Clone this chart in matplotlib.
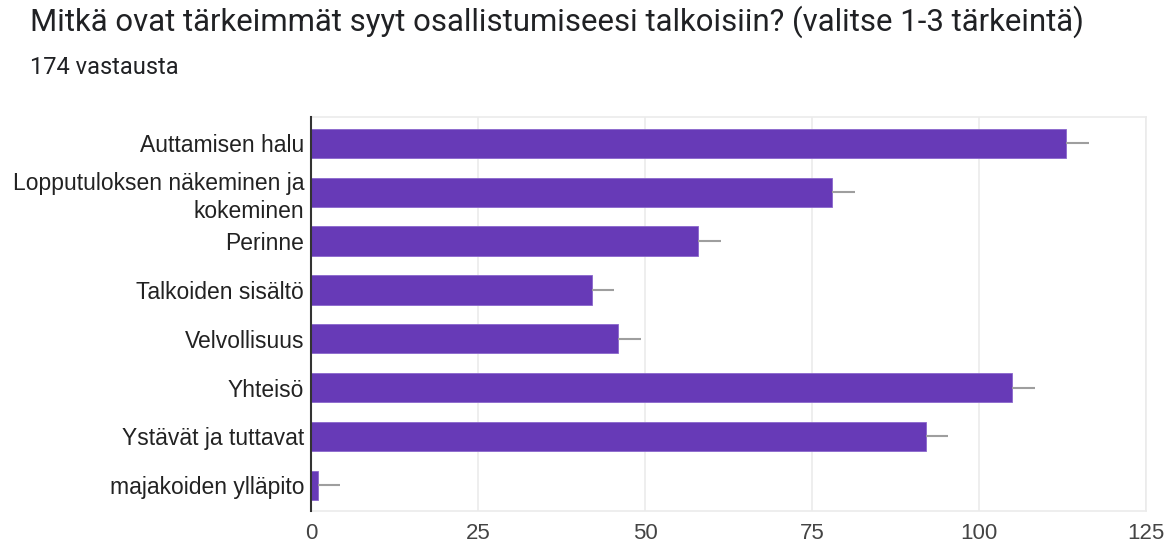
import matplotlib.pyplot as plt

categories = ['Auttamisen halu', 'Lopputuloksen näkeminen ja\nkokeminen', 'Perinne',
              'Talkoiden sisältö', 'Velvollisuus', 'Yhteisö',
              'Ystävät ja tuttavat', 'majakoiden ylläpito']
values = [113, 78, 58, 42, 46, 105, 92, 1]
err_right = [3.4, 3.4, 3.4, 3.4, 3.4, 3.4, 3.4, 3.4]
x_ticks = [0, 25, 50, 75, 100, 125]

title = 'Mitkä ovat tärkeimmät syyt osallistumiseesi talkoisiin? (valitse 1-3 tärkeintä)'
subtitle = '174 vastausta'

fig = plt.figure(figsize=(11.7, 5.47), dpi=100)
ax = fig.add_axes([311 / 1170, 1 - 510.7 / 547, (1146 - 311) / 1170, (510.7 - 117) / 547])

pos = list(range(len(categories)))
ax.barh(pos, values, height=0.6, color='#673ab7', edgecolor='#8a67cc', linewidth=0.6, zorder=3)
ax.errorbar(values, pos, xerr=[[0] * len(values), err_right], fmt='none',
            ecolor='#9e9e9e', elinewidth=1.5, capsize=0, zorder=4)

ax.set_xlim(0, 125)
ax.set_ylim(7.52, -0.54)
ax.set_xticks(x_ticks)
ax.set_yticks(pos)
ax.set_yticklabels(categories, family='Liberation Sans', fontsize=16.5, color='#222222')
for lab in ax.get_yticklabels():
    lab.set_linespacing(1.3)
ax.set_xticklabels([str(t) for t in x_ticks], family='Liberation Sans', fontsize=16, color='#444444')
ax.tick_params(axis='y', length=0, pad=5)
ax.tick_params(axis='x', length=0, pad=9)

ax.grid(axis='x', color='#ebebeb', linewidth=1.2, zorder=0)
for side in ['top', 'right', 'bottom']:
    ax.spines[side].set_color('#ebebeb')
    ax.spines[side].set_linewidth(1.2)
ax.spines['left'].set_color('#333333')
ax.spines['left'].set_linewidth(1.5)
ax.spines['left'].set_zorder(5)

fig.text(30 / 1170, 1 - 22 / 547, title, family='Roboto', fontsize=22.4, color='#202124', va='center')
fig.text(30 / 1170, 1 - 67 / 547, subtitle, family='Roboto', fontsize=17, color='#202124', va='center')

fig.savefig('out.png', dpi=100, facecolor='white')
